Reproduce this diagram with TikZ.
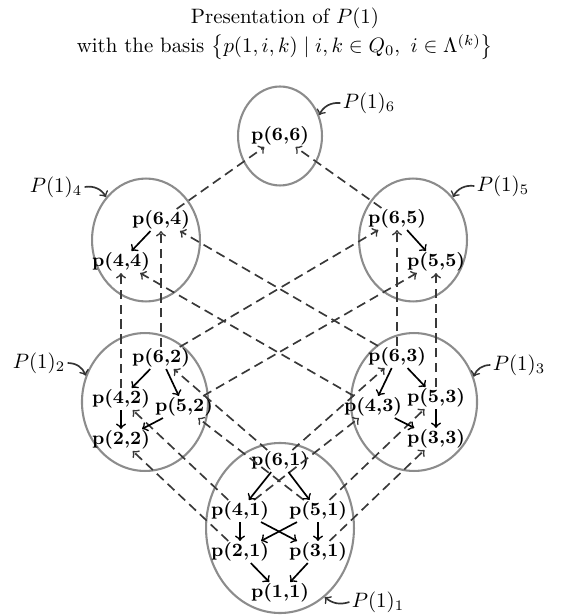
\documentclass[tikz,border=0pt]{standalone}
\usetikzlibrary{shapes.geometric}
\begin{document}
\begin{tikzpicture}[x=0.48pt,y=-0.48pt,
  every node/.style={font=\small\bfseries,inner sep=0.6pt},
  mod/.style={draw=black!45,line width=1pt,ellipse,inner sep=0pt},
  lbl/.style={font=\normalsize,inner sep=1pt},
  dep/.style={->,thick,dash pattern=on 4.5pt off 2.6pt,black!78},
  arr/.style={->,thick}]
\useasboundingbox (0,0) rectangle (571,615);
% title
\node[font=\normalsize] (title) at (285,18) {Presentation of $P(1)$};
\node[font=\normalsize] (basis) at (285,47)
  {with the basis $\left\{p(1,i,k)\mid i,k\in Q_0,\ i\in\Lambda^{(k)}\right\}$};
% modules
\node[mod,minimum width=40.3pt,minimum height=47.5pt] (e6) at (280,136) {};
\node[mod,minimum width=51.8pt,minimum height=59pt] (e4) at (146,240) {};
\node[mod,minimum width=51.8pt,minimum height=59pt] (e5) at (413,240) {};
\node[mod,minimum width=60.5pt,minimum height=66.2pt] (e2) at (145,402) {};
\node[mod,minimum width=60.5pt,minimum height=66.2pt] (e3) at (414,402) {};
\node[mod,minimum width=71pt,minimum height=81.6pt] (e1) at (280,528) {};
% basis elements
\node (p66) at (280,136) {p(6,6)};
\node (p64) at (161,220) {p(6,4)};
\node (p44) at (121,262) {p(4,4)};
\node (p65) at (397,219) {p(6,5)};
\node (p55) at (436,262) {p(5,5)};
\node (p62) at (161,358) {p(6,2)};
\node (p42) at (121,399) {p(4,2)};
\node (p52) at (184,407) {p(5,2)};
\node (p22) at (121,440) {p(2,2)};
\node (p63) at (397,357) {p(6,3)};
\node (p43) at (373,407) {p(4,3)};
\node (p53) at (436,398) {p(5,3)};
\node (p33) at (436,439) {p(3,3)};
\node (p61) at (280,461) {p(6,1)};
\node (p41) at (240,511) {p(4,1)};
\node (p51) at (318,511) {p(5,1)};
\node (p21) at (240,552) {p(2,1)};
\node (p31) at (318,552) {p(3,1)};
\node (p11) at (280,593) {p(1,1)};
% labels
\node[lbl] (l6) at (369,103) {$P(1)_6$};
\node[lbl] (l4) at (56,187) {$P(1)_4$};
\node[lbl] (l5) at (503,186) {$P(1)_5$};
\node[lbl] (l2) at (39,363) {$P(1)_2$};
\node[lbl] (l3) at (519,365) {$P(1)_3$};
\node[lbl] (l1) at (378,602) {$P(1)_1$};
\draw[->,thick,black!80] (l6.west) to[bend right=35] (e6.28);
\draw[->,thick,black!80] (l4.east) to[bend left=35] (e4.133);
\draw[->,thick,black!80] (l5.west) to[bend right=35] (e5.47);
\draw[->,thick,black!80] (l2.east) to[bend left=35] (e2.156);
\draw[->,thick,black!80] (l3.west) to[bend right=35] (e3.23);
\draw[->,thick,black!80] (l1.west) to[bend left=30] (e1.303);
% dashed maps between modules
\foreach \s/\t in {p61/p62,p41/p42,p51/p52,p21/p22,p61/p63,p41/p43,p51/p53,p31/p33,
  p62/p64,p42/p44,p62/p65,p52/p55,p63/p65,p53/p55,p63/p64,p43/p44,p64/p66,p65/p66}
  \draw[dep] (\s) -- (\t);
% arrows inside modules
\foreach \s/\t in {p61/p41,p61/p51,p41/p21,p41/p31,p51/p21,p51/p31,p21/p11,p31/p11,
  p62/p42,p62/p52,p42/p22,p52/p22,p63/p43,p63/p53,p53/p33,p43/p33,p64/p44,p65/p55}
  \draw[arr] (\s) -- (\t);
\end{tikzpicture}
\end{document}
